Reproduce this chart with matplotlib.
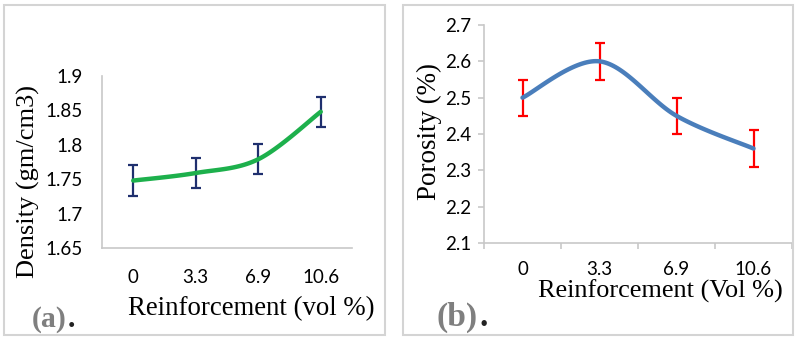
import numpy as np
import matplotlib.pyplot as plt
from matplotlib.patches import Rectangle

# data
categories = ["0", "3.3", "6.9", "10.6"]
density = [1.748, 1.759, 1.779, 1.848]
density_err = [0.022, 0.022, 0.022, 0.022]
porosity = [2.50, 2.60, 2.45, 2.36]
porosity_err = [0.05, 0.05, 0.05, 0.05]


def smooth(y, n=40):
    # excel-like smoothed line (catmull-rom bezier through the points)
    x = np.arange(len(y), dtype=float)
    y = np.asarray(y, dtype=float)
    px = np.concatenate([[x[0]], x, [x[-1]]])
    py = np.concatenate([[y[0]], y, [y[-1]]])
    xs, ys = [], []
    t = np.linspace(0, 1, n)
    for i in range(1, len(px) - 2):
        p0 = np.array([px[i], py[i]])
        p3 = np.array([px[i + 1], py[i + 1]])
        c1 = p0 + (np.array([px[i + 1], py[i + 1]]) - np.array([px[i - 1], py[i - 1]])) / 6
        c2 = p3 - (np.array([px[i + 2], py[i + 2]]) - np.array([px[i], py[i]])) / 6
        b = ((1 - t) ** 3)[:, None] * p0 + (3 * (1 - t) ** 2 * t)[:, None] * c1 \
            + (3 * (1 - t) * t ** 2)[:, None] * c2 + (t ** 3)[:, None] * p3
        xs.extend(b[:, 0])
        ys.extend(b[:, 1])
    return np.array(xs), np.array(ys)


W, H = 797, 342
fig = plt.figure(figsize=(W / 100, H / 100), dpi=100)
renderer = fig.canvas.get_renderer()
tick_font = "Lato"
serif = "Liberation Serif"
axis_grey = "#c8c8c8"


def fit(t, target, vertical=False):
    # scale a text so its rendered length matches the reference in pixels
    bb = t.get_window_extent(renderer)
    size = bb.height if vertical else bb.width
    t.set_fontsize(t.get_fontsize() * target / size)


def px(x, y):
    return x / W, 1 - y / H


def panel_tag(letter, x, y, width):
    t = fig.text(*px(x, y), "(%s)" % letter, ha="left", va="baseline", fontsize=20,
                 family=serif, weight="bold", color="#7f7f7f")
    fit(t, width)
    bb = t.get_window_extent(renderer)
    fig.text((bb.x1 + 1) / W, 1 - y / H, ".", ha="left", va="baseline",
             fontsize=t.get_fontsize(), family=serif, weight="bold", color="#222222")


# ---- panel (a)
ax1 = fig.add_axes([102 / W, 1 - 248 / H, 250 / W, 172 / H])
xi = np.arange(len(categories))
sx, sy = smooth(density)
ax1.plot(sx, sy, color="#1db04c", lw=3.2, solid_capstyle="round", zorder=3)
ax1.errorbar(xi, density, yerr=density_err, fmt="none", ecolor="#1f2f6e",
             elinewidth=1.6, capsize=3.8, capthick=1.6, zorder=2)
ax1.set_xlim(-0.5, 3.5)
ax1.set_ylim(1.65, 1.9)
ax1.set_yticks([1.65, 1.7, 1.75, 1.8, 1.85, 1.9])
ax1.set_yticklabels(["1.65", "1.7", "1.75", "1.8", "1.85", "1.9"])
ax1.set_xticks(xi)
ax1.set_xticklabels(categories)
ax1.tick_params(axis="both", length=0, labelsize=13.5)
ax1.tick_params(axis="y", pad=14)
ax1.tick_params(axis="x", pad=15)
for lab in ax1.get_xticklabels() + ax1.get_yticklabels():
    lab.set_family(tick_font)
for s in ["top", "right"]:
    ax1.spines[s].set_visible(False)
for s in ["left", "bottom"]:
    ax1.spines[s].set_color(axis_grey)
    ax1.spines[s].set_linewidth(1.2)

t = fig.text(*px(28, 182), "Density (gm/cm3)", rotation=90, ha="center",
             va="center", fontsize=20, family=serif)
fit(t, 193, vertical=True)
t = fig.text(*px(251, 315), "Reinforcement (vol %)", ha="center", va="baseline",
             fontsize=19, family=serif)
fit(t, 247)
panel_tag("a", 32, 327, 35)

# ---- panel (b)
ax2 = fig.add_axes([484 / W, 1 - 243 / H, 308 / W, 218 / H])
sx, sy = smooth(porosity)
ax2.plot(sx, sy, color="#4a7ebb", lw=3.2, solid_capstyle="round", zorder=3)
ax2.errorbar(xi, porosity, yerr=porosity_err, fmt="none", ecolor="#ff0000",
             elinewidth=1.6, capsize=3.8, capthick=1.6, zorder=2)
ax2.set_xlim(-0.5, 3.5)
ax2.set_ylim(2.1, 2.7)
ax2.set_yticks([2.1, 2.2, 2.3, 2.4, 2.5, 2.6, 2.7])
ax2.set_xticks(xi)
ax2.set_xticklabels(categories)
ax2.set_xticks(np.arange(-0.5, 4, 1), minor=True)
ax2.tick_params(axis="x", which="major", length=0, labelsize=13.5, pad=13)
ax2.tick_params(axis="x", which="minor", length=4, color=axis_grey, width=1.2)
ax2.tick_params(axis="y", length=4, color=axis_grey, width=1.2, labelsize=13.5, pad=5)
for lab in ax2.get_xticklabels() + ax2.get_yticklabels():
    lab.set_family(tick_font)
for s in ["top", "right"]:
    ax2.spines[s].set_visible(False)
for s in ["left", "bottom"]:
    ax2.spines[s].set_color(axis_grey)
    ax2.spines[s].set_linewidth(1.2)

t = fig.text(*px(429, 131), "Porosity (%)", rotation=90, ha="center",
             va="center", fontsize=20, family=serif)
fit(t, 137, vertical=True)
t = fig.text(*px(660, 298), "Reinforcement (Vol %)", ha="center", va="baseline",
             fontsize=19, family=serif)
fit(t, 245)
panel_tag("b", 437, 326, 41)

# light grey frames round each panel
for x0, x1 in [(4, 385), (403, 793)]:
    fig.patches.append(Rectangle((x0 / W, 1 - 335 / H), (x1 - x0) / W, 330 / H,
                                 transform=fig.transFigure, fill=False,
                                 edgecolor="#d4d4d4", lw=1.5))

fig.savefig("out.png", dpi=100)
